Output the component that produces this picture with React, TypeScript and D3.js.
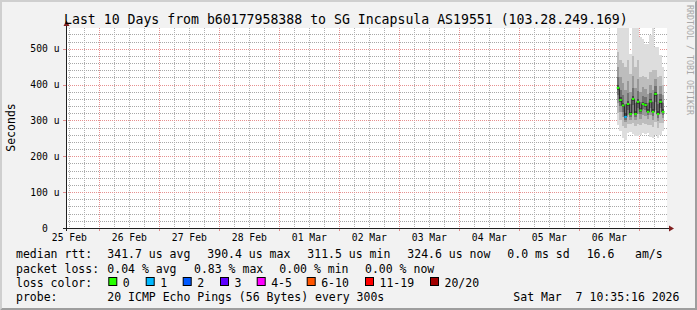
import React from 'react';
import * as d3 from 'd3';

const W = 697;
const H = 310;

const titleText = 'Last 10 Days from b60177958388 to SG Incapsula AS19551 (103.28.249.169)';
const endTime = '2026-03-07T10:35:16';

const yTickValues = [0, 100, 200, 300, 400, 500];
const yTickLabels = ['0  ', '100 u', '200 u', '300 u', '400 u', '500 u'];

const xLabelTimes = [
  '2026-02-25T12:00:00', '2026-02-26T12:00:00', '2026-02-27T12:00:00', '2026-02-28T12:00:00',
  '2026-03-01T12:00:00', '2026-03-02T12:00:00', '2026-03-03T12:00:00', '2026-03-04T12:00:00',
  '2026-03-05T12:00:00', '2026-03-06T12:00:00',
];
const xTickLabels = ['25 Feb', '26 Feb', '27 Feb', '28 Feb', '01 Mar', '02 Mar', '03 Mar', '04 Mar', '05 Mar', '06 Mar'];

// hourly consolidated steps (start of each 1h interval)
const stepStarts = [
  '2026-03-06T15:00:00', '2026-03-06T16:00:00', '2026-03-06T17:00:00', '2026-03-06T18:00:00',
  '2026-03-06T19:00:00', '2026-03-06T20:00:00', '2026-03-06T21:00:00', '2026-03-06T22:00:00',
  '2026-03-06T23:00:00', '2026-03-07T00:00:00', '2026-03-07T01:00:00', '2026-03-07T02:00:00',
  '2026-03-07T03:00:00', '2026-03-07T04:00:00', '2026-03-07T05:00:00', '2026-03-07T06:00:00',
  '2026-03-07T07:00:00', '2026-03-07T08:00:00', '2026-03-07T09:00:00',
];

// median rtt (microseconds)
const median = [391, 357, 342, 310, 346, 318, 360, 318, 352, 328, 346, 343, 324, 353, 324, 374, 318, 352, 324];
// lost pings per step (index into loss colours)
const lossIndex = [0, 0, 0, 1, 0, 0, 0, 0, 0, 0, 0, 0, 0, 0, 0, 0, 0, 0, 0];

// sorted ping values (microseconds) for the smoke bands
const ping01 = [288, 271, 251, 246, 265, 268, 263, 257, 257, 260, 265, 263, 265, 254, 251, 260, 251, 260, 271];
const ping03 = [320, 300, 285, 280, 290, 290, 292, 285, 290, 287, 292, 290, 287, 288, 282, 295, 280, 292, 292];
const ping05 = [350, 325, 310, 295, 315, 302, 320, 300, 318, 305, 315, 312, 303, 315, 300, 330, 298, 318, 306];
const ping07 = [370, 340, 325, 302, 330, 310, 342, 310, 335, 317, 332, 328, 315, 335, 313, 352, 308, 336, 316];
const ping09 = [385, 352, 337, 307, 341, 315, 355, 315, 347, 324, 342, 338, 320, 348, 320, 368, 314, 347, 321];
const ping12 = [400, 365, 350, 320, 355, 325, 368, 327, 360, 335, 352, 350, 332, 360, 332, 380, 326, 360, 332];
const ping14 = [420, 385, 372, 345, 378, 345, 390, 350, 382, 352, 368, 365, 350, 378, 352, 395, 345, 375, 348];
const ping16 = [450, 420, 405, 385, 410, 380, 425, 390, 415, 380, 392, 388, 375, 400, 385, 415, 375, 395, 370];
const ping18 = [490, 470, 460, 450, 470, 430, 480, 450, 470, 420, 425, 420, 415, 435, 440, 440, 420, 425, 400];
const ping20 = [570, 570, 570, 570, 560, 486, 570, 570, 570, 533, 528, 514, 514, 539, 570, 505, 505, 483, 450];

const lossLabels = ['0', '1', '2', '3', '4-5', '6-10', '11-19', '20/20'];
const lossColors = ['#26ff00', '#00b8ff', '#0059ff', '#5e00ff', '#ff00ff', '#ff5500', '#ff0000', '#a10000'];

const smokeBands: [number[], number[], string][] = [
  [ping01, ping20, '#dddddd'],
  [ping03, ping18, '#bdbdbd'],
  [ping05, ping16, '#999999'],
  [ping07, ping14, '#727272'],
  [ping09, ping12, '#474747'],
];

// layout
const legendSquareX = [108.3, 145.7, 182.7, 220, 256.7, 306.7, 365, 430];
const MONO = "'DejaVu Sans Mono', monospace";

export default function App() {
  const parse = d3.timeParse('%Y-%m-%dT%H:%M:%S');
  const end = parse(endTime) as Date;
  const start = d3.timeDay.offset(end, -10);
  const x = d3.scaleTime().domain([start, end]).range([65.8, 665.8]);
  const y = d3.scaleLinear().domain([0, 558]).range([228, 28]);

  const steps = stepStarts.map((s) => {
    const t0 = parse(s) as Date;
    return { t0, t1: d3.timeHour.offset(t0, 1) };
  });

  const majorV = d3.timeDay.range(d3.timeDay.ceil(start), end);
  const minorV = d3.timeHour.every(6)!.range(start, end).filter((d) => d.getHours() !== 0);
  const hVals = d3.range(20, 558, 20);

  const pts: [number, number][] = steps.map((s, i) => [x(s.t0), y(median[i])]);
  pts.push([x(steps[steps.length - 1].t1), y(median[median.length - 1])]);
  const medLine = d3.line().curve(d3.curveStepAfter)(pts) || '';

  const px = (v: number) => Math.round(v) + 0.5;

  const legendText = (tx: number, ty: number, s: string, key?: string) => (
    <text key={key} x={tx} y={ty} xmlSpace="preserve" style={{ whiteSpace: 'pre' }}>{s}</text>
  );

  return (
    <svg width={W} height={H} viewBox={`0 0 ${W} ${H}`} style={{ position: 'absolute', left: 0, top: 0 }}
      fontFamily={MONO}>
      <defs>
        <clipPath id="plotClip">
          <rect x={66} y={28} width={601} height={200} />
        </clipPath>
      </defs>
      {/* background & 3d frame */}
      <rect x={0} y={0} width={W} height={H} fill="#f2f2f2" />
      <polygon points={`0,${H} 2,${H - 2} 2,2 ${W - 2},2 ${W},0 0,0`} fill="#cfcfcf" />
      <polygon points={`2,${H - 2} ${W - 2},${H - 2} ${W - 2},2 ${W},0 ${W},${H} 0,${H}`} fill="#9e9e9e" />

      {/* canvas */}
      <rect x={66} y={28} width={601} height={200} fill="#ffffff" />

      {/* grid */}
      <g strokeWidth={1} strokeDasharray="1,1" shapeRendering="crispEdges">
        {hVals.filter((v) => v % 100 !== 0).map((v) => (
          <line key={'h' + v} x1={66} x2={667} y1={px(y(v))} y2={px(y(v))} stroke="#a8a8a8" />
        ))}
        {minorV.map((d) => (
          <line key={'v' + +d} x1={px(x(d))} x2={px(x(d))} y1={28} y2={228} stroke="#b0b0b0" />
        ))}
        {hVals.filter((v) => v % 100 === 0).map((v) => (
          <line key={'H' + v} x1={66} x2={667} y1={px(y(v))} y2={px(y(v))} stroke="#e69090" />
        ))}
        {majorV.map((d) => (
          <line key={'V' + +d} x1={px(x(d))} x2={px(x(d))} y1={28} y2={228} stroke="#e69090" />
        ))}
      </g>
      {/* axis ticks */}
      <g shapeRendering="crispEdges">
        {hVals.filter((v) => v % 100 === 0).map((v) => (
          <line key={'th' + v} x1={63} x2={66} y1={px(y(v))} y2={px(y(v))} stroke="#e08a8a" />
        ))}
        {majorV.map((d) => (
          <line key={'tv' + +d} x1={px(x(d))} x2={px(x(d))} y1={228} y2={231} stroke="#e08a8a" />
        ))}
      </g>

      {/* smoke */}
      <g clipPath="url(#plotClip)" shapeRendering="crispEdges">
        {smokeBands.map(([lo, hi, col], b) =>
          steps.map((s, i) => (
            <rect key={`s${b}-${i}`} x={x(s.t0)} width={x(s.t1) - x(s.t0)}
              y={y(hi[i])} height={y(lo[i]) - y(hi[i])} fill={col} />
          ))
        )}
      </g>

      {/* median line */}
      <path d={medLine} fill="none" stroke="#202020" strokeWidth={1} />
      {steps.map((s, i) => (
        <rect key={'m' + i} x={x(s.t0)} width={x(s.t1) - x(s.t0)} y={y(median[i]) - 1} height={2}
          fill={lossColors[lossIndex[i]]} />
      ))}

      {/* axes */}
      <line x1={66.5} x2={66.5} y1={24} y2={231} stroke="#1f1f1f" shapeRendering="crispEdges" />
      <line x1={63} x2={670} y1={228.5} y2={228.5} stroke="#1f1f1f" shapeRendering="crispEdges" />
      <polygon points="63.5,26 66.5,20.5 69.5,26" fill="#801f1f" />
      <polygon points="669,225.5 674,228.5 669,231.5" fill="#801f1f" />

      {/* y labels */}
      <g fontSize={9.7} fill="#000">
        {yTickValues.map((v, i) => (
          <text key={'yl' + v} x={59.5} y={y(v) + 3.5} textAnchor="end" xmlSpace="preserve"
            style={{ whiteSpace: 'pre' }}>{yTickLabels[i]}</text>
        ))}
        {xLabelTimes.map((t, i) => (
          <text key={'xl' + i} x={x(parse(t) as Date)} y={241} textAnchor="middle">{xTickLabels[i]}</text>
        ))}
      </g>

      {/* title */}
      <text x={64} y={24} fontSize={13.2} fill="#000">{titleText}</text>
      {/* vertical label */}
      <text transform="translate(14.5,127.5) rotate(-90)" textAnchor="middle" fontSize={11.5} fill="#000">Seconds</text>
      {/* watermark */}
      <text transform="translate(686.5,5) rotate(90)" fontSize={8.3} fill="#a8a8a8">RRDTOOL / TOBI OETIKER</text>

      {/* legend */}
      <g fontSize={11.5} fill="#000">
        {legendText(16, 258.3, 'median rtt:')}
        {legendText(107.3, 258.3, '341.7 us avg')}
        {legendText(207.3, 258.3, '390.4 us max')}
        {legendText(307.3, 258.3, '311.5 us min')}
        {legendText(407.3, 258.3, '324.6 us now')}
        {legendText(507.3, 258.3, '0.0 ms sd')}
        {legendText(586.7, 258.3, '16.6')}
        {legendText(635, 258.3, 'am/s')}

        {legendText(16, 272.5, 'packet loss:')}
        {legendText(107.3, 272.5, '0.04 % avg')}
        {legendText(194, 272.5, '0.83 % max')}
        {legendText(279.3, 272.5, '0.00 % min')}
        {legendText(365, 272.5, '0.00 % now')}

        {legendText(16, 286.7, 'loss color:')}
        {lossLabels.map((l, i) => (
          <g key={'lc' + i}>
            <rect x={legendSquareX[i] + 0.5} y={277.5} width={8} height={8} fill={lossColors[i]} stroke="#000" strokeWidth={1} />
            <text x={legendSquareX[i] + 14.5} y={286.7}>{l}</text>
          </g>
        ))}

        {legendText(16, 300.9, 'probe:')}
        {legendText(107.3, 300.9, '20 ICMP Echo Pings (56 Bytes) every 300s')}
        {legendText(513.3, 300.9, 'Sat Mar  7 10:35:16 2026')}
      </g>
    </svg>
  );
}
